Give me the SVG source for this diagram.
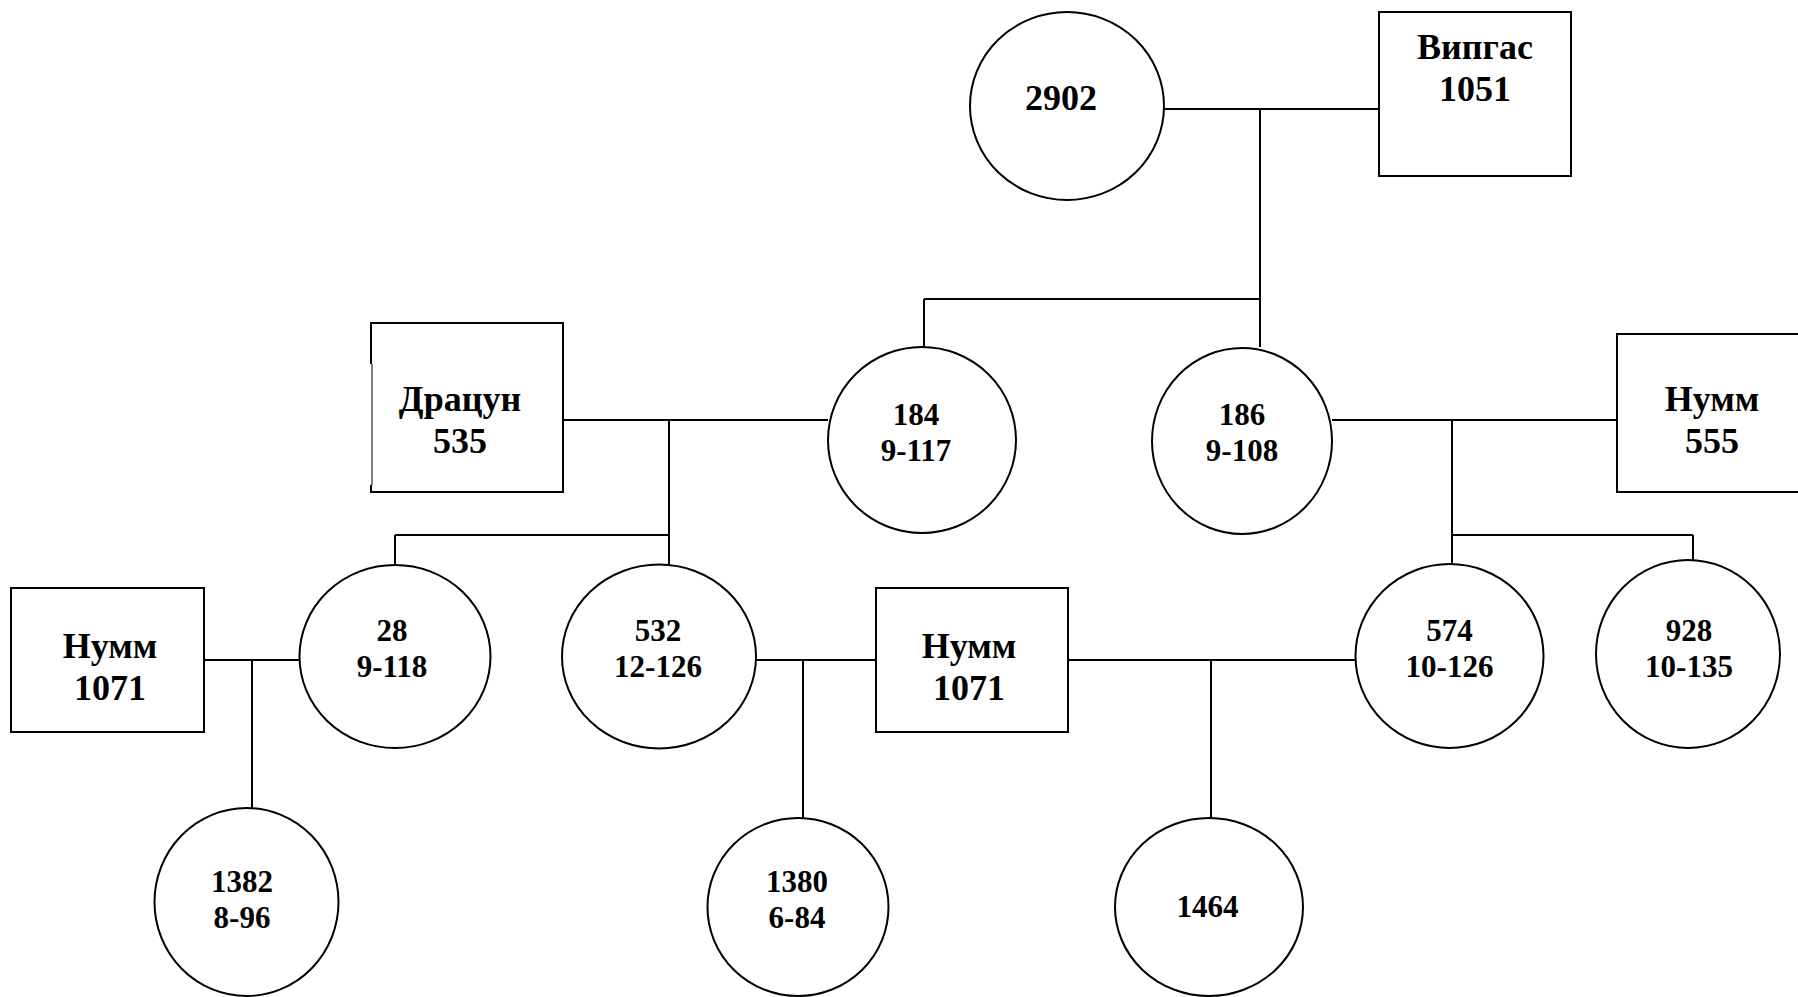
<svg xmlns="http://www.w3.org/2000/svg" width="1798" height="997" viewBox="0 0 1798 997">
<style>
.s{fill:#fff;stroke:#000;stroke-width:2}
.c{fill:none;stroke:#000;stroke-width:2}
text{font-family:"Liberation Serif","Times New Roman",serif;font-weight:bold;text-anchor:middle;fill:#000}
.b{font-size:36px}
.n{font-size:31px}
</style>
<rect width="1798" height="997" fill="#fff"/>
<g id="connectors">
<path class="c" d="M1164,109 H1379 M1260,109 V347 M924,299 H1260 M924,299 V347"/>
<path class="c" d="M563,420 H828 M669,420 V565 M395,535 H669 M395,535 V565"/>
<path class="c" d="M204,660 H299 M252,660 V808 M756,660 H876 M803,660 V818 M1068,660 H1355 M1211,660 V818"/>
<path class="c" d="M1332,420 H1617 M1452,420 V564 M1452,535 H1693 M1693,535 V560"/>
</g>
<g id="n2902"><ellipse class="s" cx="1067" cy="106" rx="97" ry="94"/><text class="b" x="1061" y="110">2902</text></g>
<g id="vipgas"><rect class="s" x="1379" y="12" width="192" height="164"/><text class="b" x="1475" y="59">Випгас</text><text class="b" x="1475" y="101">1051</text></g>
<g id="dracun"><rect x="371" y="323" width="192" height="169" fill="#fff"/><path class="c" d="M371,323 H563 V492 H371 M371,322 V364 M371,485 V493"/><path d="M372,364 V485" stroke="#000" stroke-width="1" fill="none"/><text class="b" x="460" y="411">Драцун</text><text class="b" x="460" y="453">535</text></g>
<g id="n184"><ellipse class="s" cx="922" cy="440" rx="94" ry="93"/><text class="n" x="916" y="425">184</text><text class="n" x="916" y="461">9-117</text></g>
<g id="n186"><ellipse class="s" cx="1242" cy="441" rx="90" ry="93"/><text class="n" x="1242" y="425">186</text><text class="n" x="1242" y="461">9-108</text></g>
<g id="numm555"><rect class="s" x="1617" y="334" width="200" height="158"/><text class="b" x="1712" y="411">Нумм</text><text class="b" x="1712" y="453">555</text></g>
<g id="numm1071a"><rect class="s" x="11" y="588" width="193" height="144"/><text class="b" x="110" y="658">Нумм</text><text class="b" x="110" y="700">1071</text></g>
<g id="n28"><ellipse class="s" cx="395" cy="656.5" rx="95.5" ry="91.5"/><text class="n" x="392" y="641">28</text><text class="n" x="392" y="677">9-118</text></g>
<g id="n532"><ellipse class="s" cx="659" cy="656.5" rx="97" ry="92"/><text class="n" x="658" y="641">532</text><text class="n" x="658" y="677">12-126</text></g>
<g id="numm1071b"><rect class="s" x="876" y="588" width="192" height="144"/><text class="b" x="969" y="658">Нумм</text><text class="b" x="969" y="700">1071</text></g>
<g id="n574"><ellipse class="s" cx="1449.5" cy="656" rx="94" ry="92"/><text class="n" x="1449.5" y="641">574</text><text class="n" x="1449.5" y="677">10-126</text></g>
<g id="n928"><ellipse class="s" cx="1688" cy="654" rx="92" ry="94"/><text class="n" x="1689" y="641">928</text><text class="n" x="1689" y="677">10-135</text></g>
<g id="n1382"><ellipse class="s" cx="246.5" cy="902" rx="92" ry="94"/><text class="n" x="242" y="892">1382</text><text class="n" x="242" y="928">8-96</text></g>
<g id="n1380"><ellipse class="s" cx="798" cy="907" rx="90.5" ry="89"/><text class="n" x="797" y="892">1380</text><text class="n" x="797" y="928">6-84</text></g>
<g id="n1464"><ellipse class="s" cx="1209" cy="907" rx="94" ry="89"/><text class="n" x="1207.5" y="917">1464</text></g>
</svg>
